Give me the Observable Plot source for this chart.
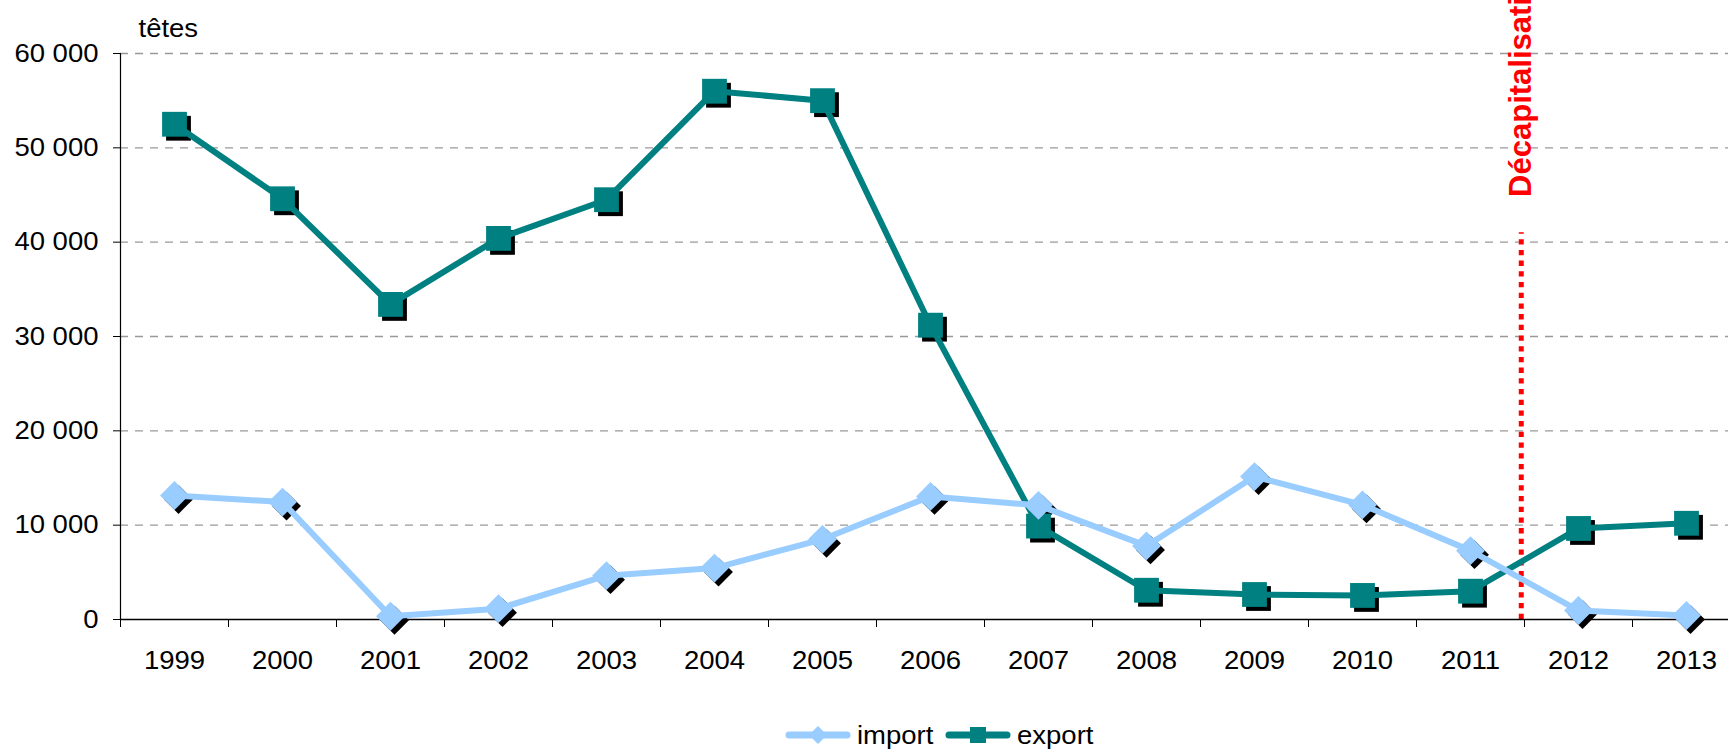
<!DOCTYPE html>
<html><head><meta charset="utf-8">
<script src="https://cdn.jsdelivr.net/npm/d3@7"></script>
<script src="https://cdn.jsdelivr.net/npm/@observablehq/plot@0.6"></script>
<style>
body{margin:0;background:#fff;overflow:hidden;font-family:"Liberation Sans",Arial,sans-serif;}
#wrap{position:relative;width:1728px;height:751px;overflow:hidden;}
#legend{position:absolute;left:0;top:718px;width:1728px;height:34px;}
.lg-item{position:absolute;top:0;height:34px;display:flex;align-items:center;}
.lg-text{font-size:25px;color:#000;display:inline-block;transform:scaleX(1.1);transform-origin:left center;margin-left:6px;}
</style></head><body>
<div id="wrap"><div id="chart"></div><div id="legend"></div></div>
<script>
// ---- data ----
const years = [1999,2000,2001,2002,2003,2004,2005,2006,2007,2008,2009,2010,2011,2012,2013];
const importValues = [13150,12450,350,1150,4650,5450,8500,13050,12100,7800,15150,12150,7300,950,420];
const exportValues = [52500,44600,33400,40400,44500,56000,55000,31200,9900,3100,2650,2550,3000,9650,10200];
const yTicks = [0,10000,20000,30000,40000,50000,60000];
const seriesNames = ["import","export"];
const seriesColors = ["#99CCFF","#008080"];
const unitLabel = "têtes";
const eventLabel = "Décapitalisation";
const eventYear = 2011.47;
const eventTop = 41000;
const eventLabelBase = 44800;

// ---- tables ----
const importRows = years.map((y,i)=>({year:y, value:importValues[i], series:seriesNames[0]}));
const exportRows = years.map((y,i)=>({year:y, value:exportValues[i], series:seriesNames[1]}));
const boundaries = years.map(y=>y-0.5).concat([years[years.length-1]+0.5]);
const fmt = d => d3.format(",")(d).replace(/,/g," ");

const chart = Plot.plot({
  width:1728, height:700,
  marginLeft:120, marginRight:0, marginTop:53, marginBottom:81,
  style:{fontFamily:'"Liberation Sans", Arial, sans-serif', fontSize:"25px", background:"white", color:"#000"},
  x:{type:"linear", domain:[boundaries[0], boundaries[boundaries.length-1]], range:[120,1740]},
  y:{domain:[0,60000], range:[619,53]},
  marks:[
    Plot.ruleY(yTicks.filter(d=>d>0), {stroke:"#999", strokeWidth:1.3, strokeDasharray:"8,7"}),
    Plot.ruleX([eventYear], {y1:0, y2:eventTop, stroke:"#ff0000", strokeWidth:5, strokeDasharray:"5.3,5.4"}),
    Plot.text([eventLabel], {x:()=>eventYear, y:()=>eventLabelBase, rotate:-90, textAnchor:"start", fill:"#ff0000", fontWeight:"bold", fontSize:31}),
    Plot.ruleX([boundaries[0]], {y1:0, y2:60000, stroke:"#000", strokeWidth:1.2}),
    Plot.ruleY([0], {stroke:"#000", strokeWidth:1.5}),
    Plot.axisY({ticks:yTicks, tickSize:7, tickPadding:15, tickFormat:fmt, label:null}),
    Plot.axisX({ticks:boundaries, tickSize:8, tickFormat:()=>"", label:null}),
    Plot.axisX({ticks:years, tickSize:0, tickPadding:32, tickFormat:d=>String(d), label:null}),
    Plot.text([unitLabel], {x:()=>boundaries[0], y:()=>60000, dx:18, dy:-25, textAnchor:"start"}),
    Plot.dot(exportRows, {x:"year", y:"value", symbol:"square", r:14, fill:"#000", dx:4, dy:4}),
    Plot.dot(importRows, {x:"year", y:"value", symbol:"diamond2", r:13, fill:"#000", dx:4, dy:4}),
    Plot.line(exportRows, {x:"year", y:"value", stroke:seriesColors[1], strokeWidth:6, strokeLinejoin:"round"}),
    Plot.line(importRows, {x:"year", y:"value", stroke:seriesColors[0], strokeWidth:6, strokeLinejoin:"round"}),
    Plot.dot(exportRows, {x:"year", y:"value", symbol:"square", r:14, fill:seriesColors[1]}),
    Plot.dot(importRows, {x:"year", y:"value", symbol:"diamond2", r:13, fill:seriesColors[0]})
  ]
});
document.getElementById("chart").append(chart);

// horizontal stretch of the text, as in the reference
chart.querySelectorAll("text").forEach(t=>{
  if (t.textContent === eventLabel || !t.textContent) return;
  const w = t.getComputedTextLength();
  if (w > 0) { t.setAttribute("textLength", w*1.1); t.setAttribute("lengthAdjust","spacingAndGlyphs"); }
});

// ---- legend ----
const legendX = [785, 945];
const legend = d3.select("#legend");
seriesNames.forEach((name,i)=>{
  const item = legend.append("div").attr("class","lg-item").style("left", legendX[i]+"px");
  const s = item.append("svg").attr("width",66).attr("height",34);
  s.append("line").attr("x1",4).attr("x2",62).attr("y1",17).attr("y2",17)
    .attr("stroke",seriesColors[i]).attr("stroke-width",7).attr("stroke-linecap","round");
  if (i===0) s.append("path").attr("d","M33,8L42,17L33,26L24,17Z").attr("fill",seriesColors[i]);
  else s.append("rect").attr("x",25).attr("y",9).attr("width",16).attr("height",16).attr("fill",seriesColors[i]);
  item.append("span").attr("class","lg-text").text(name);
});
</script>
</body></html>
